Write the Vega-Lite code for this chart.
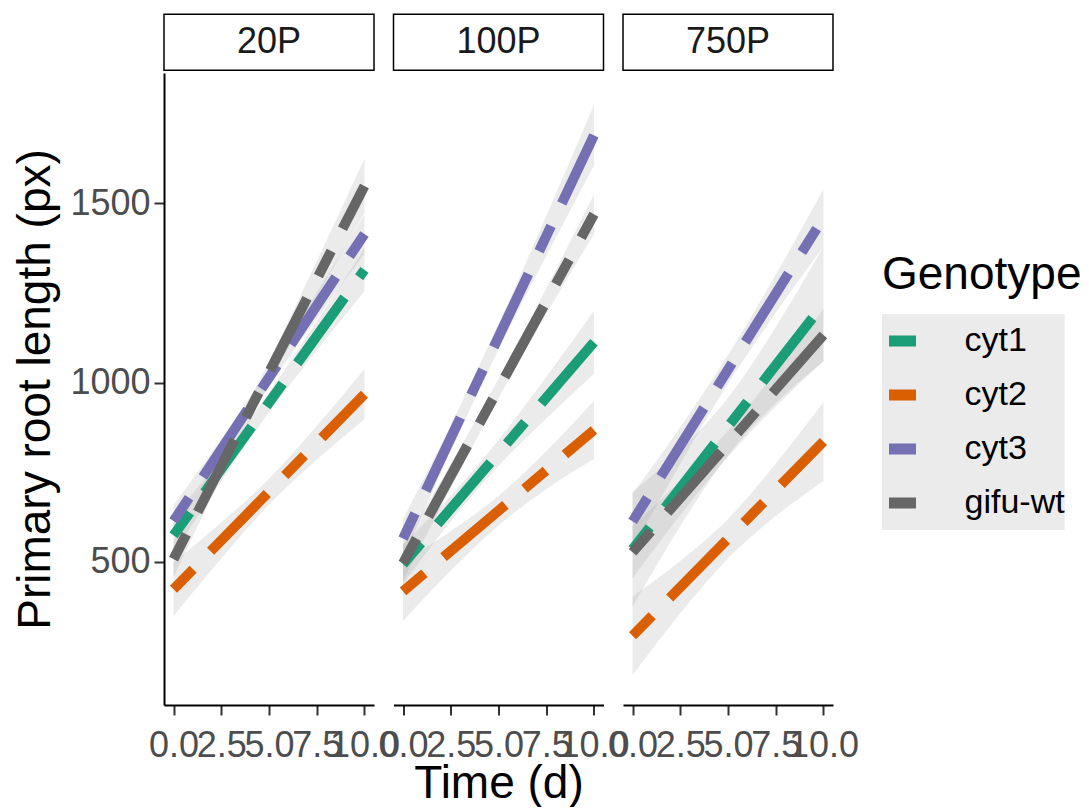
{
  "$schema": "https://vega.github.io/schema/vega-lite/v6.json",
  "padding": {"left": 12, "top": 13, "right": 0, "bottom": 0},
  "background": "white",
  "bounds": "flush",
  "config": {
    "font": "Liberation Sans",
    "view": {"stroke": null},
    "axis": {
      "grid": false,
      "domainColor": "black",
      "domainWidth": 2,
      "tickColor": "#333333",
      "tickWidth": 2,
      "tickSize": 10,
      "labelFontSize": 36,
      "labelColor": "#4D4D4D",
      "titleFontSize": 46,
      "titleFontWeight": "normal",
      "titleColor": "black"
    },
    "legend": {"padding": 0}
  },
  "data": {
    "values": [
      {"Condition": "20P", "Genotype": "cyt1", "Time": 0, "fit": 574},
      {"Condition": "20P", "Genotype": "cyt1", "Time": 10, "fit": 1315},
      {"Condition": "20P", "Genotype": "cyt2", "Time": 0, "fit": 424},
      {"Condition": "20P", "Genotype": "cyt2", "Time": 10, "fit": 968},
      {"Condition": "20P", "Genotype": "cyt3", "Time": 0, "fit": 614},
      {"Condition": "20P", "Genotype": "cyt3", "Time": 10, "fit": 1415},
      {"Condition": "20P", "Genotype": "gifu-wt", "Time": 0, "fit": 508},
      {"Condition": "20P", "Genotype": "gifu-wt", "Time": 10, "fit": 1549},
      {"Condition": "100P", "Genotype": "cyt1", "Time": 0, "fit": 494},
      {"Condition": "100P", "Genotype": "cyt1", "Time": 10, "fit": 1113},
      {"Condition": "100P", "Genotype": "cyt2", "Time": 0, "fit": 418},
      {"Condition": "100P", "Genotype": "cyt2", "Time": 10, "fit": 868},
      {"Condition": "100P", "Genotype": "cyt3", "Time": 0, "fit": 565},
      {"Condition": "100P", "Genotype": "cyt3", "Time": 10, "fit": 1690},
      {"Condition": "100P", "Genotype": "gifu-wt", "Time": 0, "fit": 497},
      {"Condition": "100P", "Genotype": "gifu-wt", "Time": 10, "fit": 1470},
      {"Condition": "750P", "Genotype": "cyt1", "Time": 0, "fit": 535},
      {"Condition": "750P", "Genotype": "cyt1", "Time": 10, "fit": 1220},
      {"Condition": "750P", "Genotype": "cyt2", "Time": 0, "fit": 294},
      {"Condition": "750P", "Genotype": "cyt2", "Time": 10, "fit": 836},
      {"Condition": "750P", "Genotype": "cyt3", "Time": 0, "fit": 613},
      {"Condition": "750P", "Genotype": "cyt3", "Time": 10, "fit": 1460},
      {"Condition": "750P", "Genotype": "gifu-wt", "Time": 0, "fit": 527},
      {"Condition": "750P", "Genotype": "gifu-wt", "Time": 10, "fit": 1133},

      {"Condition": "20P", "Genotype": "cyt1", "Time": 0, "lo": 524, "hi": 624},
      {"Condition": "20P", "Genotype": "cyt1", "Time": 2.5, "lo": 726, "hi": 792},
      {"Condition": "20P", "Genotype": "cyt1", "Time": 5, "lo": 917, "hi": 973},
      {"Condition": "20P", "Genotype": "cyt1", "Time": 7.5, "lo": 1090, "hi": 1170},
      {"Condition": "20P", "Genotype": "cyt1", "Time": 10, "lo": 1255, "hi": 1375},
      {"Condition": "20P", "Genotype": "cyt2", "Time": 0, "lo": 349, "hi": 499},
      {"Condition": "20P", "Genotype": "cyt2", "Time": 2.5, "lo": 510, "hi": 610},
      {"Condition": "20P", "Genotype": "cyt2", "Time": 5, "lo": 660, "hi": 732},
      {"Condition": "20P", "Genotype": "cyt2", "Time": 7.5, "lo": 785, "hi": 879},
      {"Condition": "20P", "Genotype": "cyt2", "Time": 10, "lo": 898, "hi": 1038},
      {"Condition": "20P", "Genotype": "cyt3", "Time": 0, "lo": 569, "hi": 659},
      {"Condition": "20P", "Genotype": "cyt3", "Time": 2.5, "lo": 784, "hi": 844},
      {"Condition": "20P", "Genotype": "cyt3", "Time": 5, "lo": 990, "hi": 1040},
      {"Condition": "20P", "Genotype": "cyt3", "Time": 7.5, "lo": 1179, "hi": 1251},
      {"Condition": "20P", "Genotype": "cyt3", "Time": 10, "lo": 1360, "hi": 1470},
      {"Condition": "20P", "Genotype": "gifu-wt", "Time": 0, "lo": 458, "hi": 558},
      {"Condition": "20P", "Genotype": "gifu-wt", "Time": 2.5, "lo": 735, "hi": 801},
      {"Condition": "20P", "Genotype": "gifu-wt", "Time": 5, "lo": 998, "hi": 1060},
      {"Condition": "20P", "Genotype": "gifu-wt", "Time": 7.5, "lo": 1239, "hi": 1339},
      {"Condition": "20P", "Genotype": "gifu-wt", "Time": 10, "lo": 1474, "hi": 1624},
      {"Condition": "100P", "Genotype": "cyt1", "Time": 0, "lo": 439, "hi": 549},
      {"Condition": "100P", "Genotype": "cyt1", "Time": 2.5, "lo": 613, "hi": 685},
      {"Condition": "100P", "Genotype": "cyt1", "Time": 5, "lo": 768, "hi": 840},
      {"Condition": "100P", "Genotype": "cyt1", "Time": 7.5, "lo": 900, "hi": 1016},
      {"Condition": "100P", "Genotype": "cyt1", "Time": 10, "lo": 1025, "hi": 1201},
      {"Condition": "100P", "Genotype": "cyt2", "Time": 0, "lo": 335, "hi": 501},
      {"Condition": "100P", "Genotype": "cyt2", "Time": 2.5, "lo": 476, "hi": 586},
      {"Condition": "100P", "Genotype": "cyt2", "Time": 5, "lo": 602, "hi": 684},
      {"Condition": "100P", "Genotype": "cyt2", "Time": 7.5, "lo": 703, "hi": 809},
      {"Condition": "100P", "Genotype": "cyt2", "Time": 10, "lo": 787, "hi": 949},
      {"Condition": "100P", "Genotype": "cyt3", "Time": 0, "lo": 510, "hi": 620},
      {"Condition": "100P", "Genotype": "cyt3", "Time": 2.5, "lo": 810, "hi": 882},
      {"Condition": "100P", "Genotype": "cyt3", "Time": 5, "lo": 1093, "hi": 1163},
      {"Condition": "100P", "Genotype": "cyt3", "Time": 7.5, "lo": 1353, "hi": 1465},
      {"Condition": "100P", "Genotype": "cyt3", "Time": 10, "lo": 1605, "hi": 1775},
      {"Condition": "100P", "Genotype": "gifu-wt", "Time": 0, "lo": 447, "hi": 547},
      {"Condition": "100P", "Genotype": "gifu-wt", "Time": 2.5, "lo": 707, "hi": 773},
      {"Condition": "100P", "Genotype": "gifu-wt", "Time": 5, "lo": 957, "hi": 1011},
      {"Condition": "100P", "Genotype": "gifu-wt", "Time": 7.5, "lo": 1191, "hi": 1263},
      {"Condition": "100P", "Genotype": "gifu-wt", "Time": 10, "lo": 1415, "hi": 1525},
      {"Condition": "750P", "Genotype": "cyt1", "Time": 0, "lo": 375, "hi": 695},
      {"Condition": "750P", "Genotype": "cyt1", "Time": 2.5, "lo": 600, "hi": 812},
      {"Condition": "750P", "Genotype": "cyt1", "Time": 5, "lo": 798, "hi": 958},
      {"Condition": "750P", "Genotype": "cyt1", "Time": 7.5, "lo": 943, "hi": 1155},
      {"Condition": "750P", "Genotype": "cyt1", "Time": 10, "lo": 1060, "hi": 1380},
      {"Condition": "750P", "Genotype": "cyt2", "Time": 0, "lo": 184, "hi": 404},
      {"Condition": "750P", "Genotype": "cyt2", "Time": 2.5, "lo": 357, "hi": 503},
      {"Condition": "750P", "Genotype": "cyt2", "Time": 5, "lo": 510, "hi": 620},
      {"Condition": "750P", "Genotype": "cyt2", "Time": 7.5, "lo": 628, "hi": 774},
      {"Condition": "750P", "Genotype": "cyt2", "Time": 10, "lo": 726, "hi": 946},
      {"Condition": "750P", "Genotype": "cyt3", "Time": 0, "lo": 536, "hi": 690},
      {"Condition": "750P", "Genotype": "cyt3", "Time": 2.5, "lo": 774, "hi": 876},
      {"Condition": "750P", "Genotype": "cyt3", "Time": 5, "lo": 997, "hi": 1077},
      {"Condition": "750P", "Genotype": "cyt3", "Time": 7.5, "lo": 1195, "hi": 1301},
      {"Condition": "750P", "Genotype": "cyt3", "Time": 10, "lo": 1380, "hi": 1540},
      {"Condition": "750P", "Genotype": "gifu-wt", "Time": 0, "lo": 454, "hi": 600},
      {"Condition": "750P", "Genotype": "gifu-wt", "Time": 2.5, "lo": 631, "hi": 727},
      {"Condition": "750P", "Genotype": "gifu-wt", "Time": 5, "lo": 793, "hi": 867},
      {"Condition": "750P", "Genotype": "gifu-wt", "Time": 7.5, "lo": 934, "hi": 1030},
      {"Condition": "750P", "Genotype": "gifu-wt", "Time": 10, "lo": 1060, "hi": 1206}
    ]
  },
  "facet": {
    "column": {
      "field": "Condition",
      "type": "nominal",
      "title": "Time (d)",
      "sort": ["20P", "100P", "750P"],
      "header": {
        "labels": false,
        "titleOrient": "bottom",
        "titleFontSize": 46,
        "titleFontWeight": "normal",
        "titleColor": "black",
        "titlePadding": -11
      }
    }
  },
  "spacing": 19.5,
  "spec": {
    "width": 210,
    "height": 632,
    "layer": [
      {
        "transform": [{"filter": "isValid(datum.lo)"}],
        "mark": {"type": "area", "fill": "#999999", "opacity": 0.2, "interpolate": "monotone"},
        "encoding": {
          "x": {
            "field": "Time", "type": "quantitative", "title": null,
            "scale": {"domain": [-0.5, 10.5], "nice": false, "zero": false},
            "axis": {"values": [0, 2.5, 5, 7.5, 10], "format": ".1f", "labelOverlap": false, "labelFlush": false, "labelPadding": 13}
          },
          "y": {
            "field": "lo", "type": "quantitative", "title": "Primary root length (px)",
            "scale": {"domain": [101, 1864], "nice": false, "zero": false},
            "axis": {"values": [500, 1000, 1500], "format": "d", "labelPadding": 4, "titlePadding": 10}
          },
          "y2": {"field": "hi"},
          "detail": {"field": "Genotype"}
        }
      },
      {
        "transform": [{"filter": "isValid(datum.fit)"}],
        "mark": {"type": "line", "strokeWidth": 10, "strokeDash": [28, 25, 81, 25]},
        "encoding": {
          "x": {"field": "Time", "type": "quantitative", "title": null},
          "y": {"field": "fit", "type": "quantitative", "title": "Primary root length (px)"},
          "color": {
            "field": "Genotype", "type": "nominal",
            "scale": {"domain": ["cyt1", "cyt2", "cyt3", "gifu-wt"], "range": ["#1B9E77", "#D95F02", "#7570B3", "#666666"]},
            "legend": {
              "orient": "none", "legendX": 718, "legendY": 180,
              "title": "Genotype", "titleFontSize": 46, "titleFontWeight": "normal", "titleColor": "black", "titlePadding": 15, "titleLimit": 400,
              "labelFontSize": 34, "labelColor": "black", "labelOffset": 43, "labelLimit": 300,
              "symbolType": "M-1,0H1", "symbolSize": 729, "symbolStrokeWidth": 11, "symbolOffset": 1.5,
              "clipHeight": 54, "rowPadding": 0,
              "encode": {"entries": {"update": {"fill": {"value": "#EBEBEB"}, "width": {"value": 55}, "height": {"value": 54}}}}
            }
          }
        }
      },
      {
        "transform": [{"filter": "isValid(datum.fit) && datum.Genotype === 'cyt1' && datum.Time === 0"}],
        "mark": {"type": "rect", "fill": "white", "stroke": "black", "strokeWidth": 1.5},
        "encoding": {
          "x": {"datum": -0.5, "type": "quantitative", "title": null},
          "x2": {"datum": 10.5},
          "y": {"datum": 1872, "type": "quantitative", "title": "Primary root length (px)"},
          "y2": {"datum": 2028}
        }
      },
      {
        "transform": [{"filter": "isValid(datum.fit) && datum.Genotype === 'cyt1' && datum.Time === 0"}],
        "mark": {"type": "text", "fontSize": 36, "color": "#1A1A1A", "baseline": "middle", "align": "center"},
        "encoding": {
          "x": {"datum": 5, "type": "quantitative", "title": null},
          "y": {"datum": 1950, "type": "quantitative", "title": "Primary root length (px)"},
          "text": {"field": "Condition"}
        }
      }
    ]
  }
}
